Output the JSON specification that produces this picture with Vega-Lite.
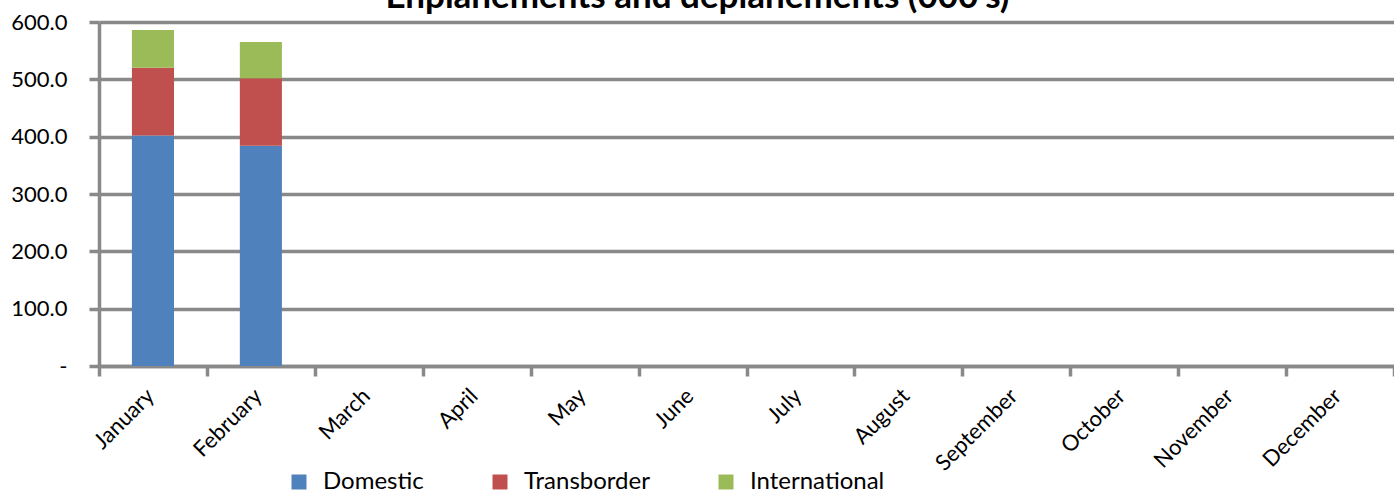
{
  "$schema": "https://vega.github.io/schema/vega-lite/v6.json",
  "autosize": "none",
  "width": 1295,
  "height": 344,
  "padding": {"left": 99, "top": 22, "right": 0, "bottom": 124},
  "background": "white",
  "title": {
    "text": "Enplanements and deplanements (000's)",
    "font": "Lato",
    "fontSize": 35,
    "fontWeight": "bold",
    "color": "#000000",
    "anchor": "middle",
    "frame": "group",
    "baseline": "alphabetic",
    "offset": 0,
    "dx": -49,
    "dy": 32
  },
  "data": {
    "values": [
      {"month": "January", "series": "Domestic", "rank": 1, "value": 402},
      {"month": "January", "series": "Transborder", "rank": 2, "value": 118},
      {"month": "January", "series": "International", "rank": 3, "value": 66},
      {"month": "February", "series": "Domestic", "rank": 1, "value": 384},
      {"month": "February", "series": "Transborder", "rank": 2, "value": 118},
      {"month": "February", "series": "International", "rank": 3, "value": 63}
    ]
  },
  "mark": {"type": "bar", "width": {"band": 0.39}},
  "encoding": {
    "x": {
      "field": "month",
      "type": "nominal",
      "sort": null,
      "scale": {
        "domain": ["January", "February", "March", "April", "May", "June", "July", "August", "September", "October", "November", "December"],
        "paddingInner": 0,
        "paddingOuter": 0
      },
      "axis": {
        "title": null,
        "labelAngle": -45,
        "labelFont": "Lato",
        "labelFontSize": 22,
        "labelColor": "#000000",
        "labelPadding": 9,
        "labelOffset": -10,
        "tickBand": "extent",
        "tickSize": 10,
        "tickWidth": 3.5,
        "tickColor": "#898989",
        "domainColor": "#898989",
        "domainWidth": 3.5,
        "grid": false
      }
    },
    "y": {
      "field": "value",
      "type": "quantitative",
      "stack": "zero",
      "scale": {"domain": [0, 600], "nice": false},
      "axis": {
        "title": null,
        "values": [0, 100, 200, 300, 400, 500, 600],
        "labelExpr": "datum.value == 0 ? '-' : format(datum.value, '.1f')",
        "labelFont": "Lato",
        "labelFontSize": 22,
        "labelColor": "#000000",
        "labelPadding": 22,
        "tickSize": 10,
        "tickWidth": 3.5,
        "tickColor": "#898989",
        "domainColor": "#898989",
        "domainWidth": 3.5,
        "grid": true,
        "gridColor": "#898989",
        "gridWidth": 3.5
      }
    },
    "color": {
      "field": "series",
      "type": "nominal",
      "scale": {
        "domain": ["Domestic", "Transborder", "International"],
        "range": ["#4F81BD", "#C0504D", "#9BBB59"]
      },
      "legend": {
        "title": null,
        "orient": "none",
        "direction": "horizontal",
        "legendX": 188,
        "legendY": 448,
        "symbolType": "square",
        "symbolSize": 225,
        "symbolStrokeWidth": 0,
        "labelFont": "Lato",
        "labelFontSize": 24,
        "labelColor": "#000000",
        "labelOffset": 12,
        "labelLimit": 300,
        "columnPadding": 64
      }
    },
    "order": {"field": "rank", "type": "quantitative"}
  },
  "config": {
    "view": {"stroke": null}
  }
}
